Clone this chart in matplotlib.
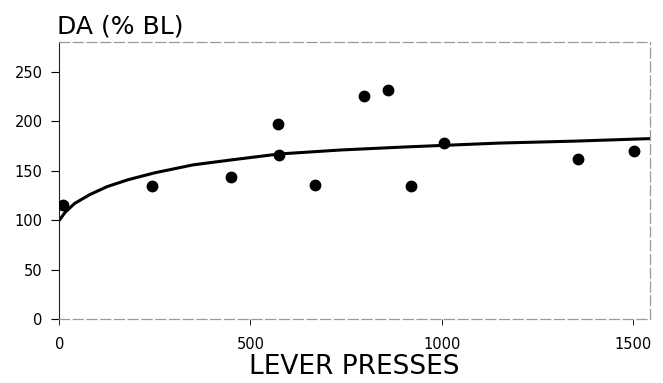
import matplotlib
matplotlib.use("Agg")
import matplotlib.pyplot as plt

# Data points (lever presses, DA % baseline)
presses = [10, 242, 448, 572, 574, 669, 796, 860, 921, 1007, 1356, 1504]
da_pct = [115, 135, 144, 197, 166, 136, 226, 232, 135, 178, 162, 170]

# Fitted curve
curve_x = [0, 15, 40, 80, 125, 180, 250, 350, 450, 575, 735, 900, 1150, 1350, 1545]
curve_y = [100, 108, 117, 126, 134, 141, 148, 156, 161, 167, 171, 174, 178, 180, 182.5]

x_ticks = [0, 500, 1000, 1500]
y_ticks = [0, 50, 100, 150, 200, 250]

plt.rcParams['font.family'] = ['DejaVu Sans']

fig = plt.figure(figsize=(6.63, 3.83), dpi=100)
ax = fig.add_axes([59.3/663, (383-319.3)/383, (650-59.3)/663, 280*0.99/383])

ax.plot(curve_x, curve_y, color='black', lw=2.2, solid_capstyle='round', zorder=2)
ax.plot(presses, da_pct, 'o', color='black', ms=7.5, zorder=3)

ax.set_xlim(0, 1545)
ax.set_ylim(0, 280)
ax.set_xticks(x_ticks)
ax.set_yticks(y_ticks)
ax.tick_params(axis='y', direction='out', length=6, width=0.8, pad=6, labelsize=10.5)
ax.tick_params(axis='x', direction='out', length=4, width=0.6, pad=9, labelsize=10.5)

ax.spines['left'].set_color('#222222')
ax.spines['left'].set_linewidth(0.8)
for s in ['top', 'bottom', 'right']:
    ax.spines[s].set_color('#999999')
    ax.spines[s].set_linewidth(0.9)
    ax.spines[s].set_linestyle((0, (8, 3)))

ax.set_xlabel('LEVER PRESSES', fontsize=19, labelpad=1)
fig.text(57/663, 1 - 33.5/383, 'DA (% BL)', fontsize=18, ha='left', va='baseline')

fig.savefig('out.png', dpi=100)
